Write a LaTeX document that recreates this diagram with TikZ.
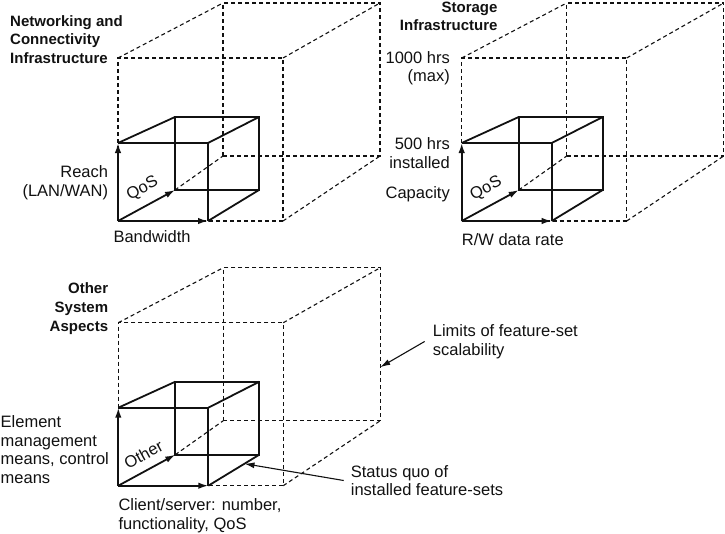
\documentclass[tikz,border=0pt]{standalone}
\usepackage{fontspec}
\setmainfont{Liberation Sans}
\usepackage{xcolor}
\usepackage{tikz}
\usetikzlibrary{arrows.meta,calc}
\definecolor{inkblack}{HTML}{111111}

\begin{document}
\begin{tikzpicture}[
    x=1pt, y=-1pt,
    limitedge/.style={draw=inkblack, line width=1.1pt, dash pattern=on 4pt off 3pt},
    quoedge/.style={draw=inkblack, line width=1.8pt},
    axisarrow/.style={quoedge, -{Latex[length=10pt, width=6.5pt]}},
    callout/.style={draw=inkblack, line width=1.1pt, -{Latex[length=10pt, width=6pt]}},
    heading/.style={font=\fontsize{15}{18.6}\selectfont\bfseries, text=inkblack, inner sep=0pt},
    axislabel/.style={font=\fontsize{16.5}{18.6}\selectfont, text=inkblack, inner sep=0pt},
    slopelabel/.style={font=\fontsize{16.5}{18.6}\selectfont, text=inkblack, sloped, above, inner sep=8.5pt}
  ]
  \useasboundingbox (0,0) rectangle (725,533);

  % limit cube (L) and installed cube (S) of each feature-set
  \foreach \g/\ox/\oy/\depthlabel in {net/118/221/QoS, sto/461.7/221/QoS, oth/118.3/485.7/Other}{
    \coordinate (\g-O)    at (\ox,\oy);
    \coordinate (\g-Lfbr) at (\ox+165,\oy);
    \coordinate (\g-Lftr) at (\ox+165,\oy-163);
    \coordinate (\g-Lftl) at (\ox,\oy-163);
    \coordinate (\g-Lbbl) at (\ox+105,\oy-65);
    \coordinate (\g-Lbbr) at (\ox+262,\oy-65);
    \coordinate (\g-Lbtr) at (\ox+262,\oy-218);
    \coordinate (\g-Lbtl) at (\ox+105,\oy-218);
    \coordinate (\g-Sfbr) at (\ox+90,\oy);
    \coordinate (\g-Sftr) at (\ox+90,\oy-78);
    \coordinate (\g-Sftl) at (\ox,\oy-78);
    \coordinate (\g-Sbbl) at (\ox+57,\oy-31);
    \coordinate (\g-Sbbr) at (\ox+141,\oy-31);
    \coordinate (\g-Sbtr) at (\ox+141,\oy-104);
    \coordinate (\g-Sbtl) at (\ox+57,\oy-104);

    \draw[limitedge] (\g-O) -- (\g-Lfbr) -- (\g-Lftr) -- (\g-Lftl) -- cycle;
    \draw[limitedge] (\g-Lbbl) -- (\g-Lbbr) -- (\g-Lbtr) -- (\g-Lbtl) -- cycle;
    \draw[limitedge] (\g-Sbbl) -- (\g-Lbbl) (\g-Lfbr) -- (\g-Lbbr)
                     (\g-Lftr) -- (\g-Lbtr) (\g-Lftl) -- (\g-Lbtl);

    \draw[quoedge] (\g-Sfbr) -- (\g-Sftr) -- (\g-Sftl);
    \draw[quoedge] (\g-Sbbl) -- (\g-Sbbr) -- (\g-Sbtr) -- (\g-Sbtl) -- cycle;
    \draw[quoedge] (\g-Sfbr) -- (\g-Sbbr) (\g-Sftr) -- (\g-Sbtr) (\g-Sftl) -- (\g-Sbtl);

    \draw[axisarrow] (\g-O) -- (\g-Sfbr);
    \draw[axisarrow] (\g-O) -- (\g-Sftl);
    \draw[axisarrow] (\g-O) -- node[slopelabel, pos=0.57] (\g-depth) {\depthlabel} (\g-Sbbl);
  }

  % multi-line texts sit on the baseline of their last line
  \node[heading, anchor=base west, align=left] (netTitle) at (10,63.3)
    {Networking and\\Connectivity\\Infrastructure};
  \node[axislabel, anchor=base east, align=right] (netReach) at (108.3,196) {Reach\\(LAN/WAN)};
  \node[axislabel, anchor=base west] (netBand) at (113.3,242) {Bandwidth};

  \node[heading, anchor=base east, align=right] (stoTitle) at (497.7,30.7) {Storage\\Infrastructure};
  \node[axislabel, anchor=base east, align=right] (stoMax) at (450,81.7) {1000 hrs\\(max)};
  \node[axislabel, anchor=base east, align=right] (stoInst) at (450,168.3) {500 hrs\\installed};
  \node[axislabel, anchor=base east] (stoCap) at (450,198.3) {Capacity};
  \node[axislabel, anchor=base west] (stoRate) at (461.7,245.7) {R/W data rate};

  \node[heading, anchor=base east, align=right] (othTitle) at (108.3,331) {Other\\System\\Aspects};
  \node[axislabel, anchor=base west, align=left] (othElem) at (0.5,483.3)
    {Element\\management\\means, control\\means};
  \node[axislabel, anchor=base west, align=left] (othClient) at (118.3,529)
    {Client/server: number,\\functionality, QoS};

  \node[axislabel, anchor=base west, align=left] (limitsNote) at (432.7,355)
    {Limits of feature-set\\scalability};
  \node[axislabel, anchor=base west, align=left] (statusNote) at (350.7,495.7)
    {Status quo of\\installed feature-sets};

  \coordinate (limitsTip) at ($(oth-Lbtr)!0.65!(oth-Lbbr)$);
  \coordinate (statusTip) at ($(oth-Sfbr)!0.71!(oth-Sbbr)$);
  \draw[callout] ([xshift=-8pt]limitsNote.west) -- (limitsTip);
  \draw[callout] ([xshift=-7pt]statusNote.west) -- (statusTip);
\end{tikzpicture}
\end{document}
